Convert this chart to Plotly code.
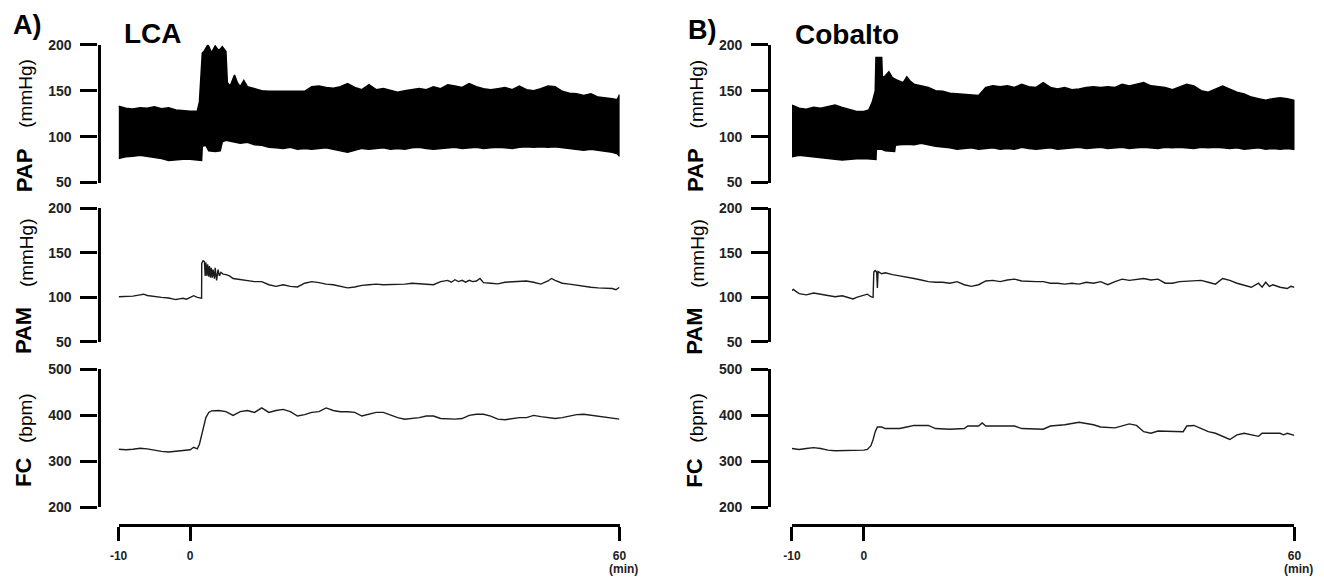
import plotly.graph_objects as go

# ---------------------------------------------------------------- data
# (time in min, value) pairs read along each recording

# PAP envelope (systolic top / diastolic bottom), mmHg
pap_lca_top = [(-10, 133), (-9, 130.8), (-8, 130), (-7, 131.5), (-6, 130.8), (-5, 132.5), (-4, 130.4),
               (-3, 131.5), (-2, 129), (-1, 128), (0, 127.6), (1, 128), (1.3, 137.8), (1.7, 191),
               (2, 193.5), (2.5, 200), (3, 191.3), (3.5, 198.7), (4, 193.5), (4.5, 197.8), (5, 192.6),
               (5.2, 158.7), (5.6, 155), (6.2, 167), (6.6, 158.7), (7, 154.3), (7.5, 161), (8, 154.3),
               (9, 152.2), (10, 150), (11, 149.3), (12, 149.3), (13, 149.3), (14, 149.3), (15, 149.3),
               (16, 149.3), (17, 154.3), (18, 155), (19, 153.5), (20, 152.6), (21, 154.3), (22, 157.8),
               (23, 153.5), (24, 151), (25, 156.5), (26, 151), (27, 152.2), (28, 150), (29, 148.3),
               (30, 150), (31, 151), (32, 152.2), (33, 151), (34, 154.3), (35, 152.2), (36, 156.5),
               (37, 155), (38, 153.5), (39, 157.8), (40, 154.3), (41, 152.2), (42, 151), (43, 152.2),
               (44, 153.5), (45, 151), (46, 155), (47, 151), (48, 150), (49, 152.2), (50, 155),
               (51, 154.3), (52, 149.3), (53, 147.2), (54, 146.5), (55, 144.8), (56, 146.5), (57, 143),
               (58, 142.3), (59, 141.3), (59.7, 140.2), (60, 145.8)]
pap_lca_bottom = [(-10, 76.3), (-9, 78), (-8, 78.6), (-7, 79.6), (-6, 78), (-5, 77.3), (-4, 76.3),
                  (-3, 74), (-2, 74.7), (-1, 75.3), (0, 75.3), (1, 74.7), (1.6, 74), (1.7, 89.5),
                  (2.2, 90.5), (2.6, 84.5), (3.5, 83.9), (4.2, 84.5), (4.5, 94.4), (5, 96), (6, 94.4),
                  (7, 92.8), (8, 93.8), (9, 91.1), (10, 90.5), (11, 88.5), (12, 87.8), (13, 87.2),
                  (14, 88.5), (15, 86.2), (16, 87.2), (17, 86.2), (18, 87.2), (19, 87.8), (20, 86.2),
                  (21, 84.5), (22, 82.9), (23, 85.2), (24, 87.2), (25, 86.2), (26, 87.2), (27, 87.8),
                  (28, 86.2), (29, 87.2), (30, 86.2), (31, 87.8), (32, 88.5), (33, 87.2), (34, 86.2),
                  (35, 87.2), (36, 87.8), (37, 88.5), (38, 87.2), (39, 87.8), (40, 88.5), (41, 87.2),
                  (42, 87.8), (43, 88.5), (44, 87.8), (45, 87.2), (46, 88.5), (47, 89.1), (48, 88.5),
                  (49, 89.1), (50, 88.5), (51, 89.1), (52, 88.5), (53, 87.8), (54, 86.2), (55, 85.2),
                  (56, 86.2), (57, 84.5), (58, 83.9), (59, 82.9), (59.7, 81.3), (60, 78.6)]

pap_cob_top = [(-10, 134.3), (-9, 130.8), (-8, 129.7), (-7, 131.8), (-6, 130.8), (-5, 132.5), (-4, 134.3),
               (-3, 131.8), (-2, 129.7), (-1, 127.3), (0, 127.3), (0.7, 129), (1.2, 137.8), (1.6, 150),
               (1.7, 186), (2.5, 186), (2.6, 164), (3, 166.2), (3.5, 170.5), (4, 164), (4.5, 162),
               (5, 160), (5.5, 158.7), (6, 165), (6.5, 160), (7, 157), (8, 155), (9, 153.5), (10, 150),
               (11, 149.3), (12, 147.2), (13, 146.5), (14, 145.8), (15, 144.8), (16, 144.8), (17, 153.5),
               (18, 155.2), (19, 154.3), (20, 155.2), (21, 153.5), (22, 157), (23, 154.3), (24, 153.5),
               (25, 158.7), (26, 153.5), (27, 151.7), (28, 153.5), (29, 151), (30, 151.7), (31, 153.5),
               (32, 154.3), (33, 153.5), (34, 154.3), (35, 153.5), (36, 157), (37, 155.2), (38, 157),
               (39, 158.7), (40, 155.2), (41, 154.3), (42, 153.5), (43, 151), (44, 154.3), (45, 157),
               (46, 155), (47, 150), (48, 148.3), (49, 151.7), (50, 155), (51, 151.7), (52, 148.3),
               (53, 146.5), (54, 143), (55, 141.3), (56, 139.5), (57, 141.3), (58, 142.3), (59, 141.3),
               (60, 139.5)]
pap_cob_bottom = [(-10, 78), (-9, 79.6), (-8, 78.6), (-7, 78), (-6, 77.3), (-5, 76.3), (-4, 75.3),
                  (-3, 74.7), (-2, 75.3), (-1, 76), (0, 76.3), (1, 76), (1.7, 75.3), (1.75, 86.2),
                  (2.5, 86.2), (3, 84.5), (4.3, 83.9), (4.4, 90.5), (5, 91.1), (6, 91.8), (7, 91.1),
                  (8, 92.8), (9, 91.1), (10, 89.5), (11, 88.5), (12, 87.8), (13, 86.2), (14, 87.2),
                  (15, 87.8), (16, 86.2), (17, 87.2), (18, 87.8), (19, 86.2), (20, 87.2), (21, 86.2),
                  (22, 88.5), (23, 87.2), (24, 86.2), (25, 87.2), (26, 87.8), (27, 86.2), (28, 87.2),
                  (29, 87.8), (30, 88.5), (31, 87.2), (32, 87.8), (33, 88.5), (34, 87.2), (35, 87.8),
                  (36, 88.5), (37, 87.2), (38, 87.8), (39, 88.5), (40, 87.8), (41, 87.2), (42, 88.5),
                  (43, 87.8), (44, 88.5), (45, 87.8), (46, 87.2), (47, 88.5), (48, 87.8), (49, 88.5),
                  (50, 87.8), (51, 87.2), (52, 87.8), (53, 86.2), (54, 87.2), (55, 87.8), (56, 86.2),
                  (57, 87.2), (58, 86.2), (59, 87.2), (60, 86.2)]

# PAM, mmHg
pam_lca = [(-10, 100.7), (-9, 101), (-8, 101.4), (-7, 102.8), (-6.5, 103.5), (-6, 102.1), (-5, 100.7),
           (-4, 100), (-3, 99.3), (-2, 97.5), (-1.5, 98.2), (-1, 98.9), (-0.5, 97.9), (0, 100),
           (0.5, 101.8), (1, 100), (1.5, 99.3), (1.6, 99), (1.62, 138), (1.8, 141), (2.0, 140),
           (2.1, 124), (2.2, 139), (2.35, 124), (2.45, 137), (2.6, 123), (2.7, 135), (2.85, 122),
           (2.95, 133), (3.1, 122), (3.2, 131), (3.4, 121), (3.5, 133), (3.7, 119), (3.9, 131),
           (4.1, 124), (4.3, 128), (4.6, 126), (5, 125.4), (5.5, 124), (6, 121.1), (7, 119.7),
           (8, 119), (9, 117.6), (10, 117.6), (11, 114.1), (12, 112.3), (13, 114.1), (14, 112.3),
           (15, 111.6), (16, 115.8), (17, 117.6), (18, 116.5), (19, 114.8), (20, 114.1), (21, 112.3),
           (22, 110.6), (23, 111.6), (24, 113.4), (25, 114.1), (26, 114.8), (27, 114.1), (28, 114.1),
           (29, 114.1), (30, 114.8), (31, 115.8), (32, 115.5), (33, 114.8), (34, 114.1), (35, 117.6),
           (36, 119), (36.5, 116.9), (37, 119.7), (37.5, 117.6), (38, 119), (38.5, 116.9), (39, 119),
           (39.5, 117.6), (40, 118.3), (40.5, 121.1), (41, 116.5), (42, 115.8), (43, 115.1),
           (44, 116.9), (45, 117.6), (46, 117.6), (47, 118.3), (48, 116.9), (49, 114.8), (50, 118.3),
           (50.5, 121.1), (51, 119), (52, 115.8), (53, 114.8), (54, 113.4), (55, 112.3), (56, 111.3),
           (57, 110.6), (58, 110.6), (59, 109.9), (59.5, 108.5), (60, 111.3)]
pam_cob = [(-10, 107.7), (-9.8, 108.8), (-9.5, 107), (-9, 104.2), (-8, 102.8), (-7, 104.9), (-6, 103.5),
           (-5, 101.8), (-4, 100.7), (-3, 101.8), (-2, 99.3), (-1.5, 98.2), (-1, 100), (0, 101.8),
           (0.5, 103.5), (1, 100.7), (1.3, 100), (1.4, 128.2), (1.6, 129.9), (1.8, 128.2),
           (1.9, 110.6), (2.0, 128.9), (2.2, 127.5), (2.5, 126.4), (3, 127.5), (3.5, 126.4), (4, 125.4),
           (5, 124), (6, 122.9), (7, 121.1), (8, 119.4), (9, 117.6), (10, 116.9), (11, 116.9),
           (12, 115.8), (13, 117.6), (14, 114.1), (15, 112.3), (16, 114.1), (17, 118.3), (18, 119),
           (19, 117.6), (20, 119.4), (21, 120.4), (22, 118.3), (23, 117.6), (24, 117.6), (25, 117.6),
           (26, 115.8), (27, 115.8), (28, 114.8), (29, 115.8), (30, 114.8), (31, 116.9), (32, 115.8),
           (33, 117.6), (34, 114.1), (35, 117.6), (36, 120.4), (37, 119), (38, 120.4), (39, 121.1),
           (40, 119.4), (41, 120.4), (42, 115.8), (43, 115.8), (44, 117.6), (45, 118.3), (46, 119),
           (47, 119), (48, 116.9), (49, 114.8), (50, 121.1), (51, 119), (52, 115.8), (53, 113.4),
           (54, 111.3), (55, 115.8), (55.5, 111.3), (56, 116.9), (56.5, 112.3), (57, 114.1),
           (58, 111.3), (59, 109.9), (59.5, 112.3), (60, 111.3)]

# FC, bpm
fc_lca = [(-10, 326.5), (-9, 325.2), (-8, 326.5), (-7, 328.6), (-6, 327.2), (-5, 323.8), (-4, 321.8),
          (-3, 320.4), (-2, 322.4), (-1, 323.8), (0, 325.2), (0.5, 330.6), (1, 327.2), (1.3, 337.4),
          (1.6, 357.8), (1.9, 371.4), (2.2, 395.2), (2.6, 406.5), (3, 409.8), (4, 410.6), (5, 408.1),
          (6, 400), (7, 408.1), (8, 410.6), (9, 406.5), (10, 416.3), (11, 406.5), (12, 410.6),
          (13, 413), (14, 408.1), (15, 398.6), (16, 401.6), (17, 406.5), (18, 408.1), (19, 416.3),
          (20, 410.6), (21, 408.1), (22, 408.1), (23, 406.5), (24, 398.6), (25, 402.4), (26, 406.5),
          (27, 406.5), (28, 400), (29, 395.2), (30, 391.8), (31, 393.2), (32, 395.2), (33, 398.6),
          (34, 398.6), (35, 393.2), (36, 391.8), (37, 391.8), (38, 393.2), (39, 400), (40, 402.4),
          (41, 402.4), (42, 398.6), (43, 391.8), (44, 390.5), (45, 393.2), (46, 395.2), (47, 395.2),
          (48, 400), (49, 397.3), (50, 395.2), (51, 393.2), (52, 395.2), (53, 398.6), (54, 401.6),
          (55, 402.4), (56, 400), (57, 398.6), (58, 395.2), (59, 393.2), (60, 391.8)]
fc_cob = [(-10, 327.9), (-9, 325.9), (-8, 327.9), (-7, 329.9), (-6, 327.9), (-5, 324.5), (-4, 323.1),
          (-3, 323.1), (-2, 324.5), (-1, 323.1), (0, 324.5), (0.5, 325.9), (1, 334), (1.3, 347.6),
          (1.6, 364.6), (1.9, 374.8), (2.5, 374.8), (3, 371.4), (5, 371.4), (6, 374.8), (7, 378.2),
          (9, 378.2), (10, 371.4), (12, 370), (14, 371.4), (14.5, 376.9), (16, 376.9), (16.5, 383.7),
          (17, 376.9), (21, 376.9), (22, 371.4), (25, 370), (26, 376.9), (28, 379.6), (30, 385),
          (32, 379.6), (33, 374.8), (35, 372.8), (36, 376.9), (37, 381.6), (38, 378.2), (39, 364.6),
          (40, 361.2), (41, 366), (44.5, 364.6), (45, 376.9), (46, 378.2), (47, 371.4), (48, 364.6),
          (49, 361.2), (50, 354.4), (51, 347.6), (52, 357.8), (53, 361.2), (55, 354.4), (55.5, 361.2),
          (58, 361.2), (58.5, 357.8), (59, 361.2), (60, 356.5)]

# axis ticks
time_ticks = [-10, 0, 60]
time_tick_text = ["<b>-10</b>", "<b>0</b>", "<b>60</b>"]
pressure_ticks = [50, 100, 150, 200]
rate_ticks = [200, 300, 400, 500]

panel_letters = ["A)", "B)"]
panel_titles = ["LCA", "Cobalto"]

# ---------------------------------------------------------------- layout helpers
# Positions below are given in pixels of the final 1324x579 image.  The page keeps
# the browser's 8 px body margin, so the captured page is (W+16)x(H+16) and is
# brought back to 1324x579; fx / fy undo that before converting to paper units.
W, H = 1324, 579
BODY = 8
SX = (W + 2 * BODY) / W
SY = (H + 2 * BODY) / H
FONT = "Liberation Sans, Arial, sans-serif"


def fx(px):
    return (px * SX - BODY) / W


def fy(py):
    return 1 - (py * SY - BODY) / H


def unzip(pairs):
    return [p[0] for p in pairs], [p[1] for p in pairs]


def bold(values):
    return [f"<b>{v}</b>" for v in values]


# vertical placement of the three strips (pixel rows of top / bottom tick)
rows = {
    "pap": (44.5, 182.5, [50, 200], pressure_ticks),
    "pam": (208, 342, [50, 200], pressure_ticks),
    "fc": (369.5, 507.5, [200, 500], rate_ticks),
}
x_axis_row = 525

# horizontal placement per panel: (-10 tick px, 60 tick px, y-axis line px)
panels = [(117.5, 618.5, 97.5), (791, 1293.5, 768.3)]

fig = go.Figure()
layout = dict(
    width=W, height=H, margin=dict(l=0, r=0, t=0, b=0), autosize=False,
    paper_bgcolor="white", plot_bgcolor="white", showlegend=False,
    font=dict(family=FONT, color="black"),
)

axis_line = dict(showline=True, linewidth=3.4, linecolor="black", ticks="outside", tickwidth=3.4,
                 tickcolor="black", showgrid=False, zeroline=False, fixedrange=True)

series = [
    (pap_lca_top, pap_lca_bottom, pam_lca, fc_lca),
    (pap_cob_top, pap_cob_bottom, pam_cob, fc_cob),
]

annotations = []
for p, ((x0, x1, yline), (top, bottom, pam, fc)) in enumerate(zip(panels, series)):
    xname = "xaxis" if p == 0 else "xaxis2"
    xref = "x" if p == 0 else "x2"
    layout[xname] = dict(
        domain=[fx(x0), fx(x1)], range=[-10, 60], anchor="free", position=fy(x_axis_row),
        tickvals=time_ticks, ticktext=time_tick_text, ticklen=14, ticklabelstandoff=5,
        tickfont=dict(family=FONT, size=12, color="#222"), **axis_line)

    yrefs = []
    for r, key in enumerate(["pap", "pam", "fc"]):
        idx = p * 3 + r + 1
        yname = "yaxis" if idx == 1 else f"yaxis{idx}"
        yrefs.append("y" if idx == 1 else f"y{idx}")
        ptop, pbot, rng, tv = rows[key]
        layout[yname] = dict(
            domain=[fy(pbot), fy(ptop)], range=rng, anchor="free", position=fx(yline),
            tickvals=tv, ticktext=bold(tv), ticklen=17, ticklabelstandoff=6,
            tickfont=dict(family=FONT, size=14, color="#222"), **axis_line)

    # PAP: filled pulse envelope
    tt, vt = unzip(top)
    tb, vb = unzip(bottom)
    fig.add_trace(go.Scatter(
        x=tt + tb[::-1], y=vt + vb[::-1], xaxis=xref, yaxis=yrefs[0], mode="lines",
        fill="toself", fillcolor="black", line=dict(color="black", width=1.5), hoverinfo="skip"))

    # PAM and FC traces
    for data, yr in ((pam, yrefs[1]), (fc, yrefs[2])):
        t, v = unzip(data)
        fig.add_trace(go.Scatter(x=t, y=v, xaxis=xref, yaxis=yr, mode="lines",
                                 line=dict(color="#1c1c1c", width=1.4), hoverinfo="skip"))

    dx = yline - panels[0][2]
    # panel letter and title
    annotations.append(dict(text=f"<b>{panel_letters[p]}</b>", x=fx(10 + dx * 1.007), y=fy(25 + 5 * p),
                            xanchor="left", yanchor="middle", font=dict(size=27)))
    annotations.append(dict(text=f"<b>{panel_titles[p]}</b>", x=fx(121 + dx * 1.0), y=fy(33 + p),
                            xanchor="left", yanchor="middle", font=dict(size=28)))
    # rotated strip titles
    for name, unit, yc_name, yc_unit in (("PAP", "(mmHg)", 170, 93.5),
                                         ("PAM", "(mmHg)", 331, 253),
                                         ("FC", "(bpm)", 473, 418)):
        annotations.append(dict(text=f"<b>{name}</b>", x=fx(23 + dx), y=fy(yc_name), textangle=-90,
                                xanchor="center", yanchor="middle", font=dict(size=22)))
        annotations.append(dict(text=unit, x=fx(25 + dx), y=fy(yc_unit), textangle=-90,
                                xanchor="center", yanchor="middle", font=dict(size=19)))
    # time unit below the last tick
    annotations.append(dict(text="<b>(min)</b>", x=fx(x1 + 4), y=fy(569), xanchor="center",
                            yanchor="middle", font=dict(size=12, color="#222")))

for a in annotations:
    a.update(xref="paper", yref="paper", showarrow=False)
    a["font"] = dict(family=FONT, color=a["font"].get("color", "black"), size=a["font"]["size"])
layout["annotations"] = annotations

fig.update_layout(**layout)
fig.write_html("out.html", config={"displayModeBar": False})
